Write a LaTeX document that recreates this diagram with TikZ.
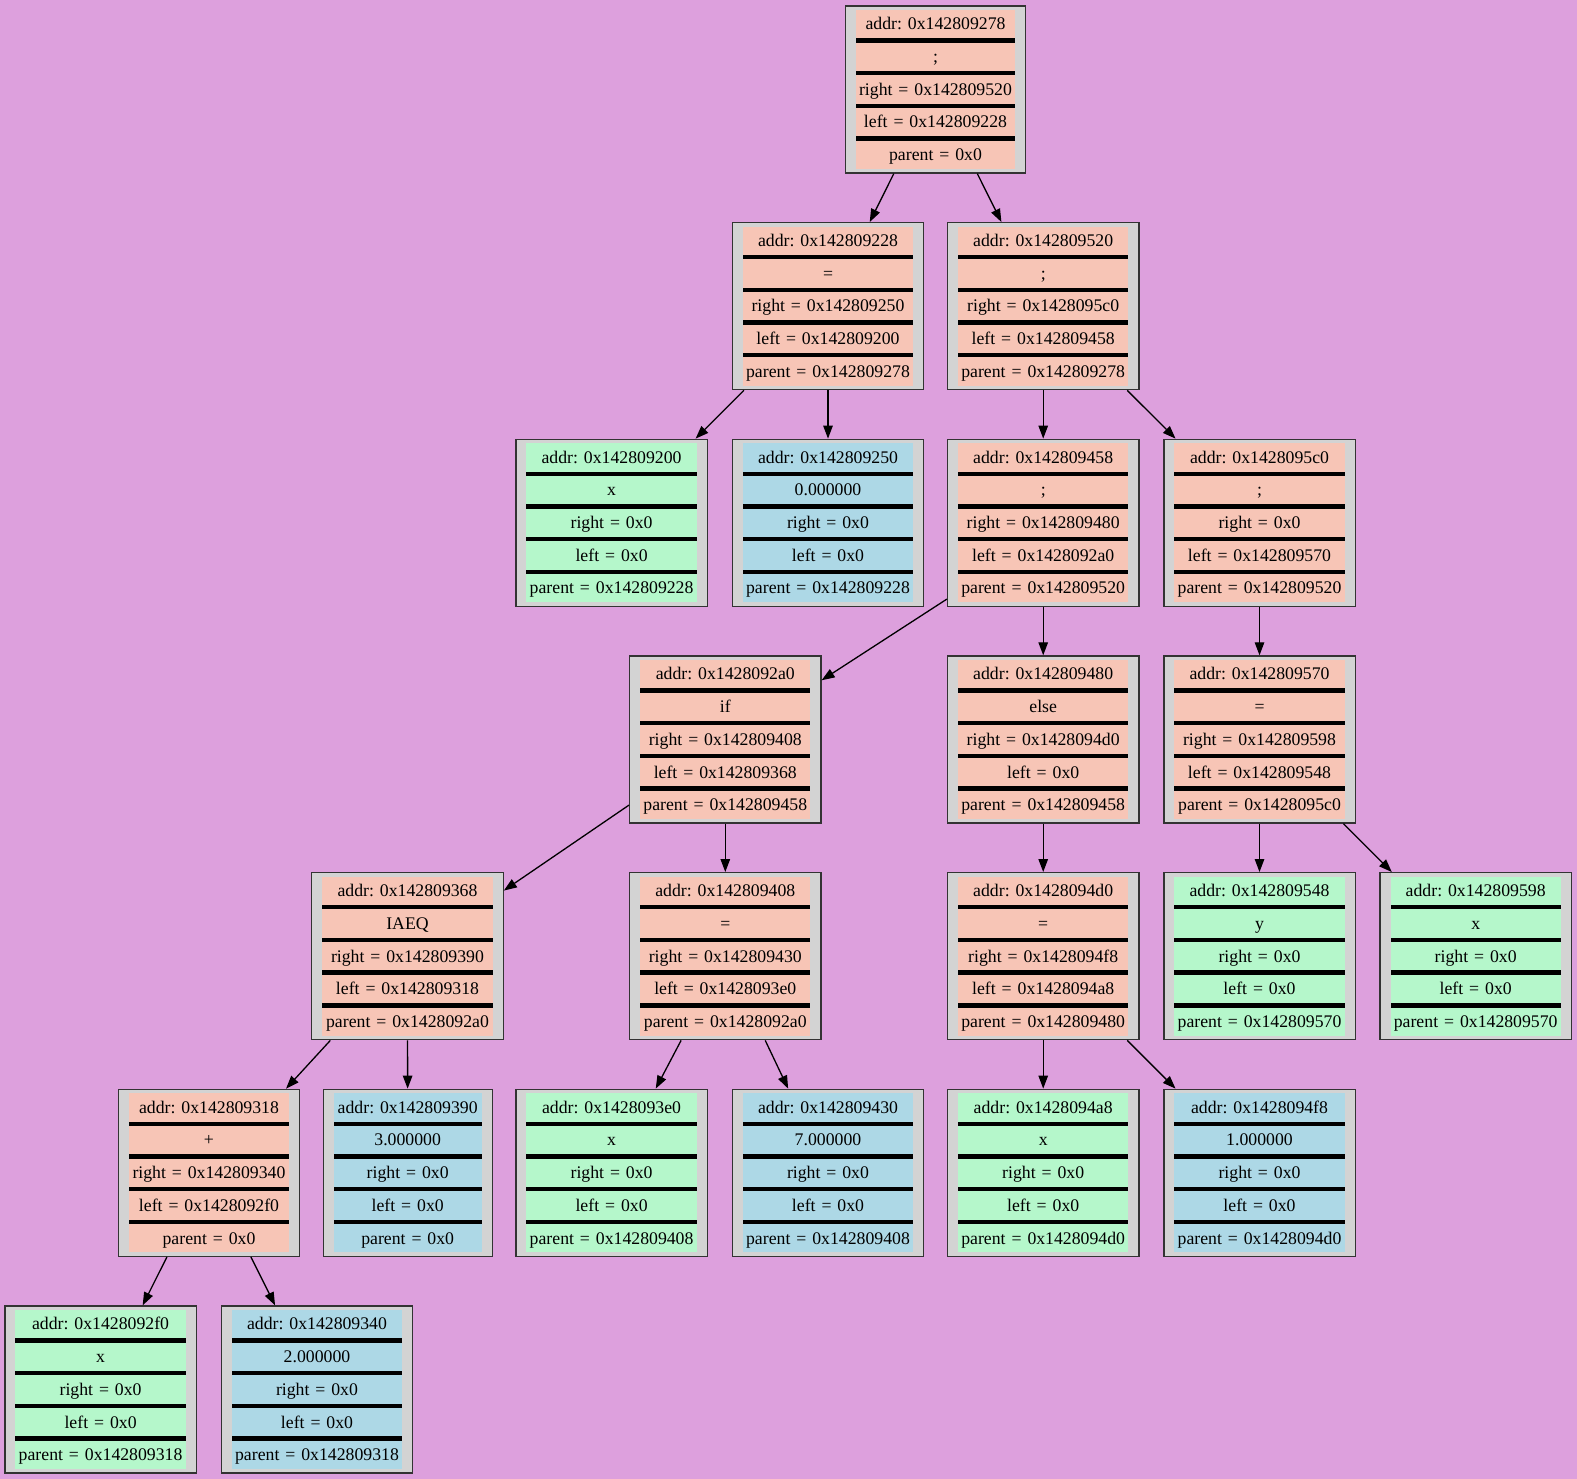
\documentclass[tikz,border=0pt]{standalone}
\usepackage{fontspec}
\setmainfont{Liberation Serif}
\usepackage{tikz}
\usetikzlibrary{matrix,arrows.meta}
\usepackage{xcolor}
\frenchspacing
\definecolor{plumbg}{RGB}{221,160,221}
\definecolor{boxgray}{RGB}{211,211,211}
\definecolor{salmon}{RGB}{247,197,182}
\definecolor{mint}{RGB}{181,247,203}
\definecolor{sky}{RGB}{173,216,230}
\tikzset{
  treenode/.style={matrix of nodes, draw=black!80, line width=0.74pt, fill=boxgray,
    inner xsep=6pt, inner ysep=2.3pt, row sep=0pt,
    nodes={text width=#1, minimum height=16.05pt, text height=6.6pt, text depth=0pt,
      align=center, inner sep=0pt, anchor=center,
      font=\fontsize{10.1pt}{12pt}\selectfont}},
  treenode/.default=96.9pt,
  bar/.style={fill=black, minimum height=2.56pt, text height=0pt, text depth=0pt},
  opnode/.style={nodes={fill=salmon}},
  varnode/.style={nodes={fill=mint}},
  numnode/.style={nodes={fill=sky}},
  link/.style={-{Triangle[length=7.4pt,width=5.4pt]}, line width=0.74pt}
}
\begin{document}
\begin{tikzpicture}[x=0.02cm, y=-0.02cm]

	\path[use as bounding box, fill=plumbg] (0,0) rectangle (1577,1479);

	% level 0
	\matrix (n278) [treenode=90.8pt, opnode] at (935.5,89.5)
	{
		addr: 0x142809278\\ |[bar]| \\ ;\\ |[bar]| \\ right = 0x142809520\\ |[bar]| \\ left = 0x142809228\\ |[bar]| \\ parent = 0x0\\
	};

	% level 1
	\matrix (n228) [treenode, opnode] at (828,306.2)
	{
		addr: 0x142809228\\ |[bar]| \\ =\\ |[bar]| \\ right = 0x142809250\\ |[bar]| \\ left = 0x142809200\\ |[bar]| \\ parent = 0x142809278\\
	};
	\matrix (n520) [treenode, opnode] at (1043.2,306.2)
	{
		addr: 0x142809520\\ |[bar]| \\ ;\\ |[bar]| \\ right = 0x1428095c0\\ |[bar]| \\ left = 0x142809458\\ |[bar]| \\ parent = 0x142809278\\
	};

	% level 2
	\matrix (n200) [treenode, varnode] at (611.6,522.8)
	{
		addr: 0x142809200\\ |[bar]| \\ x\\ |[bar]| \\ right = 0x0\\ |[bar]| \\ left = 0x0\\ |[bar]| \\ parent = 0x142809228\\
	};
	\matrix (n250) [treenode, numnode] at (828,522.8)
	{
		addr: 0x142809250\\ |[bar]| \\ 0.000000\\ |[bar]| \\ right = 0x0\\ |[bar]| \\ left = 0x0\\ |[bar]| \\ parent = 0x142809228\\
	};
	\matrix (n458) [treenode, opnode] at (1043.2,522.8)
	{
		addr: 0x142809458\\ |[bar]| \\ ;\\ |[bar]| \\ right = 0x142809480\\ |[bar]| \\ left = 0x1428092a0\\ |[bar]| \\ parent = 0x142809520\\
	};
	\matrix (n5c0) [treenode, opnode] at (1259.5,522.8)
	{
		addr: 0x1428095c0\\ |[bar]| \\ ;\\ |[bar]| \\ right = 0x0\\ |[bar]| \\ left = 0x142809570\\ |[bar]| \\ parent = 0x142809520\\
	};

	% level 3
	\matrix (n2a0) [treenode, opnode] at (725.3,739.5)
	{
		addr: 0x1428092a0\\ |[bar]| \\ if\\ |[bar]| \\ right = 0x142809408\\ |[bar]| \\ left = 0x142809368\\ |[bar]| \\ parent = 0x142809458\\
	};
	\matrix (n480) [treenode, opnode] at (1043.2,739.5)
	{
		addr: 0x142809480\\ |[bar]| \\ else\\ |[bar]| \\ right = 0x1428094d0\\ |[bar]| \\ left = 0x0\\ |[bar]| \\ parent = 0x142809458\\
	};
	\matrix (n570) [treenode, opnode] at (1259.5,739.5)
	{
		addr: 0x142809570\\ |[bar]| \\ =\\ |[bar]| \\ right = 0x142809598\\ |[bar]| \\ left = 0x142809548\\ |[bar]| \\ parent = 0x1428095c0\\
	};

	% level 4
	\matrix (n368) [treenode, opnode] at (407.5,956.2)
	{
		addr: 0x142809368\\ |[bar]| \\ IAEQ\\ |[bar]| \\ right = 0x142809390\\ |[bar]| \\ left = 0x142809318\\ |[bar]| \\ parent = 0x1428092a0\\
	};
	\matrix (n408) [treenode, opnode] at (725.3,956.2)
	{
		addr: 0x142809408\\ |[bar]| \\ =\\ |[bar]| \\ right = 0x142809430\\ |[bar]| \\ left = 0x1428093e0\\ |[bar]| \\ parent = 0x1428092a0\\
	};
	\matrix (n4d0) [treenode, opnode] at (1043.2,956.2)
	{
		addr: 0x1428094d0\\ |[bar]| \\ =\\ |[bar]| \\ right = 0x1428094f8\\ |[bar]| \\ left = 0x1428094a8\\ |[bar]| \\ parent = 0x142809480\\
	};
	\matrix (n548) [treenode, varnode] at (1259.5,956.2)
	{
		addr: 0x142809548\\ |[bar]| \\ y\\ |[bar]| \\ right = 0x0\\ |[bar]| \\ left = 0x0\\ |[bar]| \\ parent = 0x142809570\\
	};
	\matrix (n598) [treenode, varnode] at (1475.7,956.2)
	{
		addr: 0x142809598\\ |[bar]| \\ x\\ |[bar]| \\ right = 0x0\\ |[bar]| \\ left = 0x0\\ |[bar]| \\ parent = 0x142809570\\
	};

	% level 5
	\matrix (n318) [treenode=90.8pt, opnode] at (209,1172.8)
	{
		addr: 0x142809318\\ |[bar]| \\ +\\ |[bar]| \\ right = 0x142809340\\ |[bar]| \\ left = 0x1428092f0\\ |[bar]| \\ parent = 0x0\\
	};
	\matrix (n390) [treenode=84.2pt, numnode] at (407.7,1172.8)
	{
		addr: 0x142809390\\ |[bar]| \\ 3.000000\\ |[bar]| \\ right = 0x0\\ |[bar]| \\ left = 0x0\\ |[bar]| \\ parent = 0x0\\
	};
	\matrix (n3e0) [treenode, varnode] at (611.6,1172.8)
	{
		addr: 0x1428093e0\\ |[bar]| \\ x\\ |[bar]| \\ right = 0x0\\ |[bar]| \\ left = 0x0\\ |[bar]| \\ parent = 0x142809408\\
	};
	\matrix (n430) [treenode, numnode] at (828,1172.8)
	{
		addr: 0x142809430\\ |[bar]| \\ 7.000000\\ |[bar]| \\ right = 0x0\\ |[bar]| \\ left = 0x0\\ |[bar]| \\ parent = 0x142809408\\
	};
	\matrix (n4a8) [treenode, varnode] at (1043.2,1172.8)
	{
		addr: 0x1428094a8\\ |[bar]| \\ x\\ |[bar]| \\ right = 0x0\\ |[bar]| \\ left = 0x0\\ |[bar]| \\ parent = 0x1428094d0\\
	};
	\matrix (n4f8) [treenode, numnode] at (1259.5,1172.8)
	{
		addr: 0x1428094f8\\ |[bar]| \\ 1.000000\\ |[bar]| \\ right = 0x0\\ |[bar]| \\ left = 0x0\\ |[bar]| \\ parent = 0x1428094d0\\
	};

	% level 6
	\matrix (n2f0) [treenode, varnode] at (100.6,1389.5)
	{
		addr: 0x1428092f0\\ |[bar]| \\ x\\ |[bar]| \\ right = 0x0\\ |[bar]| \\ left = 0x0\\ |[bar]| \\ parent = 0x142809318\\
	};
	\matrix (n340) [treenode, numnode] at (317,1389.5)
	{
		addr: 0x142809340\\ |[bar]| \\ 2.000000\\ |[bar]| \\ right = 0x0\\ |[bar]| \\ left = 0x0\\ |[bar]| \\ parent = 0x142809318\\
	};

	% edges
	\draw[link] (n278) -- (n228);
	\draw[link] (n278) -- (n520);
	\draw[link] (n228) -- (n200);
	\draw[link] (n228) -- (n250);
	\draw[link] (n520) -- (n458);
	\draw[link] (n520) -- (n5c0);
	\draw[link] ([yshift=4.5pt]n458.south west) -- ([yshift=-14.2pt]n2a0.north east);
	\draw[link] (n458) -- (n480);
	\draw[link] (n5c0) -- (n570);
	\draw[link] (n2a0) -- (n368);
	\draw[link] (n2a0) -- (n408);
	\draw[link] (n480) -- (n4d0);
	\draw[link] (n570) -- (n548);
	\draw[link] (n570) -- (n598);
	\draw[link] (n368) -- (n318);
	\draw[link] (n368) -- (n390);
	\draw[link] (n408) -- (n3e0);
	\draw[link] (n408) -- (n430);
	\draw[link] (n4d0) -- (n4a8);
	\draw[link] (n4d0) -- (n4f8);
	\draw[link] (n318) -- (n2f0);
	\draw[link] (n318) -- (n340);
\end{tikzpicture}
\end{document}
